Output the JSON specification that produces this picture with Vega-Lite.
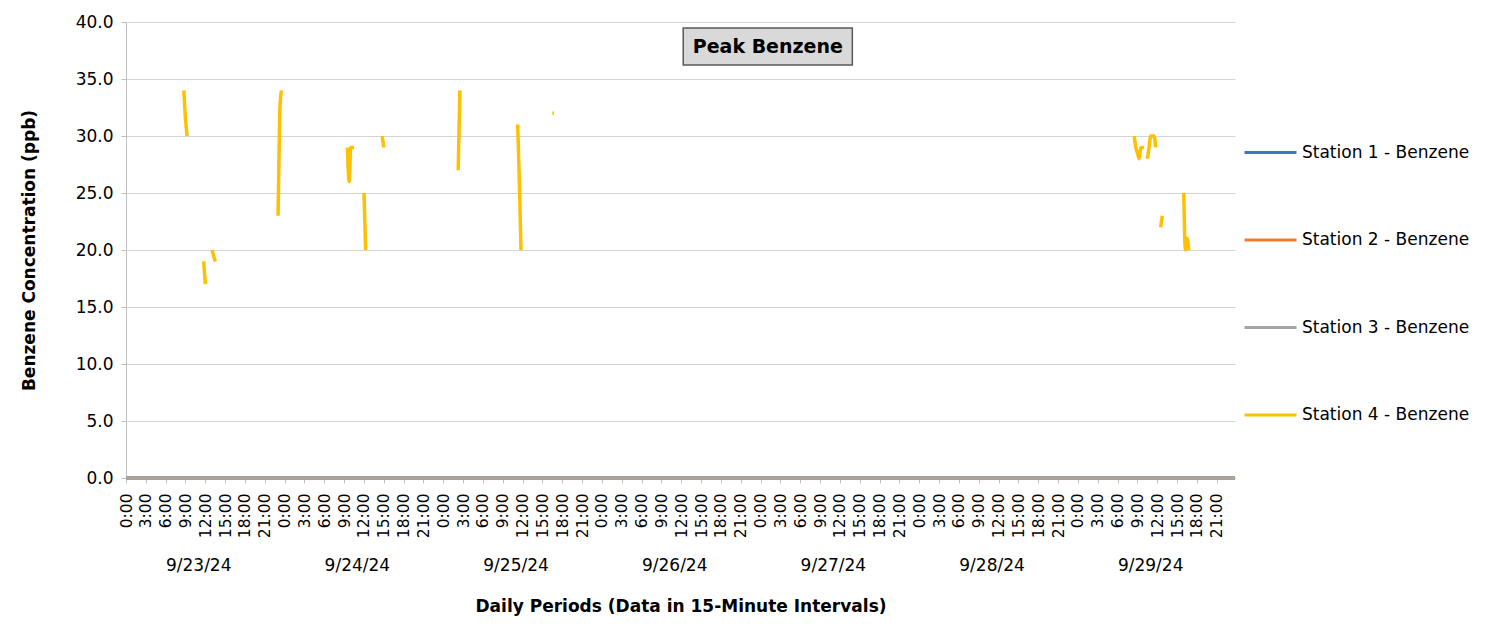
{
  "$schema": "https://vega.github.io/schema/vega-lite/v6.json",
  "width": 1109,
  "height": 456,
  "autosize": {"type": "none"},
  "padding": {"left": 126, "top": 22, "right": 251, "bottom": 156},
  "background": "white",
  "config": {
    "font": "DejaVu Sans",
    "view": {"stroke": null}
  },
  "data": {
    "values": [
      {"t": "2024-09-23T00:00", "v": 0, "station": "Station 1 - Benzene", "seg": "s1"},
      {"t": "2024-09-24T00:00", "v": 0, "station": "Station 1 - Benzene", "seg": "s1"},
      {"t": "2024-09-25T00:00", "v": 0, "station": "Station 1 - Benzene", "seg": "s1"},
      {"t": "2024-09-26T00:00", "v": 0, "station": "Station 1 - Benzene", "seg": "s1"},
      {"t": "2024-09-27T00:00", "v": 0, "station": "Station 1 - Benzene", "seg": "s1"},
      {"t": "2024-09-28T00:00", "v": 0, "station": "Station 1 - Benzene", "seg": "s1"},
      {"t": "2024-09-29T00:00", "v": 0, "station": "Station 1 - Benzene", "seg": "s1"},
      {"t": "2024-09-29T23:45", "v": 0, "station": "Station 1 - Benzene", "seg": "s1"},
      {"t": "2024-09-23T00:00", "v": 0, "station": "Station 2 - Benzene", "seg": "s2"},
      {"t": "2024-09-24T00:00", "v": 0, "station": "Station 2 - Benzene", "seg": "s2"},
      {"t": "2024-09-25T00:00", "v": 0, "station": "Station 2 - Benzene", "seg": "s2"},
      {"t": "2024-09-26T00:00", "v": 0, "station": "Station 2 - Benzene", "seg": "s2"},
      {"t": "2024-09-27T00:00", "v": 0, "station": "Station 2 - Benzene", "seg": "s2"},
      {"t": "2024-09-28T00:00", "v": 0, "station": "Station 2 - Benzene", "seg": "s2"},
      {"t": "2024-09-29T00:00", "v": 0, "station": "Station 2 - Benzene", "seg": "s2"},
      {"t": "2024-09-29T23:45", "v": 0, "station": "Station 2 - Benzene", "seg": "s2"},
      {"t": "2024-09-23T00:00", "v": 0, "station": "Station 3 - Benzene", "seg": "s3"},
      {"t": "2024-09-24T00:00", "v": 0, "station": "Station 3 - Benzene", "seg": "s3"},
      {"t": "2024-09-25T00:00", "v": 0, "station": "Station 3 - Benzene", "seg": "s3"},
      {"t": "2024-09-26T00:00", "v": 0, "station": "Station 3 - Benzene", "seg": "s3"},
      {"t": "2024-09-27T00:00", "v": 0, "station": "Station 3 - Benzene", "seg": "s3"},
      {"t": "2024-09-28T00:00", "v": 0, "station": "Station 3 - Benzene", "seg": "s3"},
      {"t": "2024-09-29T00:00", "v": 0, "station": "Station 3 - Benzene", "seg": "s3"},
      {"t": "2024-09-29T23:45", "v": 0, "station": "Station 3 - Benzene", "seg": "s3"},
      {"t": "2024-09-23T08:45", "v": 34, "station": "Station 4 - Benzene", "seg": "a"},
      {"t": "2024-09-23T09:00", "v": 31.5, "station": "Station 4 - Benzene", "seg": "a"},
      {"t": "2024-09-23T09:15", "v": 30, "station": "Station 4 - Benzene", "seg": "a"},
      {"t": "2024-09-23T11:45", "v": 19, "station": "Station 4 - Benzene", "seg": "b"},
      {"t": "2024-09-23T12:00", "v": 17, "station": "Station 4 - Benzene", "seg": "b"},
      {"t": "2024-09-23T13:00", "v": 20, "station": "Station 4 - Benzene", "seg": "c"},
      {"t": "2024-09-23T13:15", "v": 19.5, "station": "Station 4 - Benzene", "seg": "c"},
      {"t": "2024-09-23T13:30", "v": 19, "station": "Station 4 - Benzene", "seg": "c"},
      {"t": "2024-09-23T23:00", "v": 23, "station": "Station 4 - Benzene", "seg": "d"},
      {"t": "2024-09-23T23:15", "v": 32, "station": "Station 4 - Benzene", "seg": "d"},
      {"t": "2024-09-23T23:30", "v": 34, "station": "Station 4 - Benzene", "seg": "d"},
      {"t": "2024-09-24T09:30", "v": 29, "station": "Station 4 - Benzene", "seg": "e"},
      {"t": "2024-09-24T09:45", "v": 26, "station": "Station 4 - Benzene", "seg": "e"},
      {"t": "2024-09-24T10:00", "v": 29, "station": "Station 4 - Benzene", "seg": "e"},
      {"t": "2024-09-24T10:15", "v": 29, "station": "Station 4 - Benzene", "seg": "e"},
      {"t": "2024-09-24T10:30", "v": 29, "station": "Station 4 - Benzene", "seg": "e"},
      {"t": "2024-09-24T12:00", "v": 25, "station": "Station 4 - Benzene", "seg": "f"},
      {"t": "2024-09-24T12:15", "v": 20, "station": "Station 4 - Benzene", "seg": "f"},
      {"t": "2024-09-24T14:45", "v": 30, "station": "Station 4 - Benzene", "seg": "g"},
      {"t": "2024-09-24T15:00", "v": 29, "station": "Station 4 - Benzene", "seg": "g"},
      {"t": "2024-09-25T02:15", "v": 27, "station": "Station 4 - Benzene", "seg": "h"},
      {"t": "2024-09-25T02:30", "v": 34, "station": "Station 4 - Benzene", "seg": "h"},
      {"t": "2024-09-25T11:15", "v": 31, "station": "Station 4 - Benzene", "seg": "i"},
      {"t": "2024-09-25T11:30", "v": 26, "station": "Station 4 - Benzene", "seg": "i"},
      {"t": "2024-09-25T11:45", "v": 20, "station": "Station 4 - Benzene", "seg": "i"},
      {"t": "2024-09-25T16:30", "v": 32, "station": "Station 4 - Benzene", "seg": "j"},
      {"t": "2024-09-25T16:45", "v": 32, "station": "Station 4 - Benzene", "seg": "j"},
      {"t": "2024-09-29T08:30", "v": 30, "station": "Station 4 - Benzene", "seg": "k"},
      {"t": "2024-09-29T08:45", "v": 29, "station": "Station 4 - Benzene", "seg": "k"},
      {"t": "2024-09-29T09:00", "v": 28.5, "station": "Station 4 - Benzene", "seg": "k"},
      {"t": "2024-09-29T09:15", "v": 28, "station": "Station 4 - Benzene", "seg": "k"},
      {"t": "2024-09-29T09:30", "v": 29, "station": "Station 4 - Benzene", "seg": "k"},
      {"t": "2024-09-29T09:45", "v": 29, "station": "Station 4 - Benzene", "seg": "k"},
      {"t": "2024-09-29T10:00", "v": 29, "station": "Station 4 - Benzene", "seg": "k"},
      {"t": "2024-09-29T10:30", "v": 28, "station": "Station 4 - Benzene", "seg": "l"},
      {"t": "2024-09-29T10:45", "v": 29, "station": "Station 4 - Benzene", "seg": "l"},
      {"t": "2024-09-29T11:00", "v": 30, "station": "Station 4 - Benzene", "seg": "l"},
      {"t": "2024-09-29T11:15", "v": 30, "station": "Station 4 - Benzene", "seg": "l"},
      {"t": "2024-09-29T11:30", "v": 30, "station": "Station 4 - Benzene", "seg": "l"},
      {"t": "2024-09-29T11:45", "v": 29, "station": "Station 4 - Benzene", "seg": "l"},
      {"t": "2024-09-29T12:30", "v": 22, "station": "Station 4 - Benzene", "seg": "m"},
      {"t": "2024-09-29T12:45", "v": 23, "station": "Station 4 - Benzene", "seg": "m"},
      {"t": "2024-09-29T16:00", "v": 25, "station": "Station 4 - Benzene", "seg": "n"},
      {"t": "2024-09-29T16:15", "v": 20, "station": "Station 4 - Benzene", "seg": "n"},
      {"t": "2024-09-29T16:30", "v": 21, "station": "Station 4 - Benzene", "seg": "n"},
      {"t": "2024-09-29T16:45", "v": 20, "station": "Station 4 - Benzene", "seg": "n"}
    ]
  },
  "layer": [
    {
      "mark": {"type": "line", "strokeWidth": 3.5, "interpolate": "monotone"},
      "encoding": {
        "x": {
          "field": "t",
          "type": "temporal",
          "scale": {"domain": [{"year": 2024, "month": 9, "date": 23, "hours": 0}, {"year": 2024, "month": 9, "date": 29, "hours": 23, "minutes": 45}]},
          "axis": {
            "tickCount": 60,
            "labelExpr": "hours(datum.value) + ':00'",
            "labelAngle": -90,
            "labelAlign": "right",
            "labelBaseline": "middle",
            "labelPadding": 10,
            "labelFontSize": 15.5,
            "labelColor": "#000000",
            "tickSize": 5,
            "tickColor": "#bfbfbf",
            "domainColor": "#a5a5a5",
            "grid": false,
            "title": "Daily Periods (Data in 15-Minute Intervals)",
            "titleFontSize": 17,
            "titleFontWeight": "bold",
            "titleColor": "#000000",
            "titlePadding": 61
          }
        },
        "y": {
          "field": "v",
          "type": "quantitative",
          "scale": {"domain": [0, 40]},
          "axis": {
            "values": [0, 5, 10, 15, 20, 25, 30, 35, 40],
            "format": ".1f",
            "labelFontSize": 17,
            "labelColor": "#000000",
            "labelPadding": 8,
            "tickSize": 5,
            "tickColor": "#bfbfbf",
            "domainColor": "#bfbfbf",
            "gridColor": "#d4d4d4",
            "title": "Benzene Concentration (ppb)",
            "titleFontSize": 17,
            "titleFontWeight": "bold",
            "titleColor": "#000000",
            "titlePadding": 37
          }
        },
        "color": {
          "field": "station",
          "type": "nominal",
          "scale": {
            "domain": ["Station 1 - Benzene", "Station 2 - Benzene", "Station 3 - Benzene", "Station 4 - Benzene"],
            "range": ["#4472c4", "#ed7d31", "#a5a5a5", "#ffc000"]
          },
          "legend": {
            "title": null,
            "orient": "none",
            "legendX": 1117,
            "legendY": 103,
            "symbolType": "stroke",
            "symbolSize": 2704,
            "symbolStrokeWidth": 3,
            "labelFontSize": 17,
            "labelColor": "#000000",
            "labelLimit": 300,
            "rowPadding": 51.5
          }
        },
        "detail": {"field": "seg"}
      }
    },
    {
      "data": {"values": [{"x1": "2024-09-26T12:17", "x2": "2024-09-27T13:52", "y1": 39.47, "y2": 36.23}]},
      "mark": {"type": "rect", "fill": "#d9d9d9", "stroke": "#595959", "strokeWidth": 1.5},
      "encoding": {
        "x": {"field": "x1", "type": "temporal"},
        "x2": {"field": "x2"},
        "y": {"field": "y1", "type": "quantitative"},
        "y2": {"field": "y2"}
      }
    },
    {
      "data": {"values": [{"tx": "2024-09-27T01:05", "ty": 37.85, "label": "Peak Benzene"}]},
      "mark": {"type": "text", "fontWeight": "bold", "fontSize": 19, "align": "center", "baseline": "middle", "color": "#000000"},
      "encoding": {
        "x": {"field": "tx", "type": "temporal"},
        "y": {"field": "ty", "type": "quantitative"},
        "text": {"field": "label"}
      }
    },
    {
      "data": {"values": [
        {"day": "2024-09-23T11:00", "label": "9/23/24"},
        {"day": "2024-09-24T11:00", "label": "9/24/24"},
        {"day": "2024-09-25T11:00", "label": "9/25/24"},
        {"day": "2024-09-26T11:00", "label": "9/26/24"},
        {"day": "2024-09-27T11:00", "label": "9/27/24"},
        {"day": "2024-09-28T11:00", "label": "9/28/24"},
        {"day": "2024-09-29T11:00", "label": "9/29/24"}
      ]},
      "mark": {"type": "text", "fontSize": 17, "align": "center", "baseline": "middle", "color": "#000000"},
      "encoding": {
        "x": {"field": "day", "type": "temporal"},
        "y": {"datum": -7.75, "type": "quantitative"},
        "text": {"field": "label"}
      }
    }
  ]
}
